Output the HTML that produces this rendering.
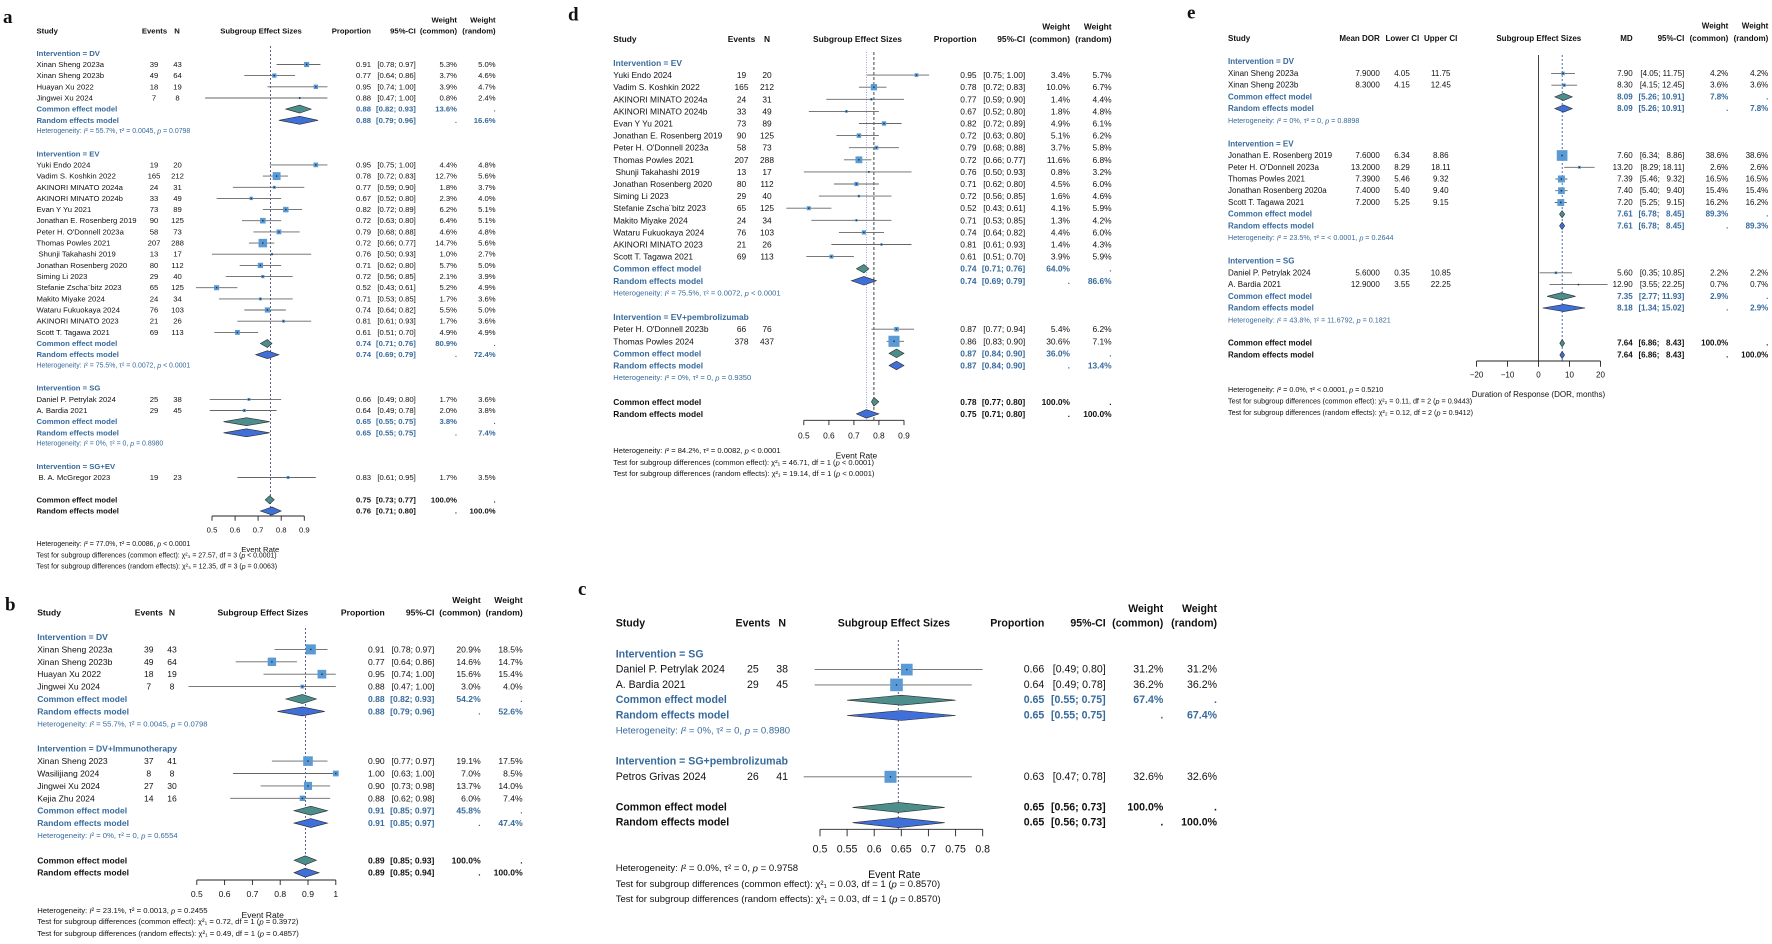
<!DOCTYPE html>
<html><head><meta charset="utf-8"><style>
html,body{margin:0;padding:0;background:#fff}
svg{display:block;font-family:"Liberation Sans",Arial,sans-serif}
svg text{dominant-baseline:central;fill:#111}
.B{font-weight:bold}
svg text.U,.U{fill:#376a9c}
.E{text-anchor:end}
.M{text-anchor:middle}
.L{font-family:"Liberation Serif",serif;font-weight:bold;font-size:19px}
.ci{stroke:#666;stroke-width:0.9;fill:none}
.sq{fill:#5a9bd5}
.dt{fill:#1d2b45}
.dc{fill:#4b8e8c;stroke:#2a2a2a;stroke-width:0.6}
.dr{fill:#3f6fd8;stroke:#2a2a2a;stroke-width:0.6}
.ref{stroke:#4d4d80;stroke-width:0.9;stroke-dasharray:2 2}
.ax{stroke:#222;stroke-width:0.9;fill:none}
</style></head><body>
<svg width="1772" height="944" viewBox="0 0 1772 944" xmlns="http://www.w3.org/2000/svg">
<rect width="1772" height="944" fill="#fff"/>

<!-- ================= PANEL A ================= -->
<g font-size="7.7">
<text class="L" x="3" y="17.7">a</text>
<g class="B">
<text x="36.5" y="31">Study</text>
<text class="M" x="154.5" y="31">Events</text>
<text class="M" x="177" y="31">N</text>
<text class="M" x="261" y="31">Subgroup Effect Sizes</text>
<text class="E" x="371" y="31">Proportion</text>
<text class="E" x="415.8" y="31">95%-CI</text>
<text class="E" x="457" y="20">Weight</text>
<text class="E" x="457" y="31">(common)</text>
<text class="E" x="495.6" y="20">Weight</text>
<text class="E" x="495.6" y="31">(random)</text>
</g>
<text class="B U" x="36.5" y="53.3">Intervention = DV</text>
<text x="36.5" y="64.5">Xinan Sheng 2023a</text>
<text x="36.5" y="75.6">Xinan Sheng 2023b</text>
<text x="36.5" y="86.8">Huayan Xu 2022</text>
<text x="36.5" y="98">Jingwei Xu 2024</text>
<text class="B U" x="36.5" y="109.1">Common effect model</text>
<text class="B U" x="36.5" y="120.3">Random effects model</text>
<text class="U" font-size="6.95" x="36.5" y="131.4">Heterogeneity: <tspan font-style="italic">I</tspan>² = 55.7%, τ² = 0.0045, <tspan font-style="italic">p</tspan> = 0.0798</text>
<text class="B U" x="36.5" y="153.8">Intervention = EV</text>
<text x="36.5" y="164.9">Yuki Endo 2024</text>
<text x="36.5" y="176.1">Vadim S. Koshkin 2022</text>
<text x="36.5" y="187.3">AKINORI MINATO 2024a</text>
<text x="36.5" y="198.4">AKINORI MINATO 2024b</text>
<text x="36.5" y="209.6">Evan Y Yu 2021</text>
<text x="36.5" y="220.7">Jonathan E. Rosenberg 2019</text>
<text x="36.5" y="231.9">Peter H. O'Donnell 2023a</text>
<text x="36.5" y="243.1">Thomas Powles 2021</text>
<text x="38.5" y="254.2">Shunji Takahashi 2019</text>
<text x="36.5" y="265.4">Jonathan Rosenberg 2020</text>
<text x="36.5" y="276.6">Siming Li 2023</text>
<text x="36.5" y="287.7">Stefanie Zscha¨bitz 2023</text>
<text x="36.5" y="298.9">Makito Miyake 2024</text>
<text x="36.5" y="310">Wataru Fukuokaya 2024</text>
<text x="36.5" y="321.2">AKINORI MINATO 2023</text>
<text x="36.5" y="332.4">Scott T. Tagawa 2021</text>
<text class="B U" x="36.5" y="343.5">Common effect model</text>
<text class="B U" x="36.5" y="354.7">Random effects model</text>
<text class="U" font-size="6.95" x="36.5" y="365.9">Heterogeneity: <tspan font-style="italic">I</tspan>² = 75.5%, τ² = 0.0072, <tspan font-style="italic">p</tspan> &lt; 0.0001</text>
<text class="B U" x="36.5" y="388.2">Intervention = SG</text>
<text x="36.5" y="399.4">Daniel P. Petrylak 2024</text>
<text x="36.5" y="410.5">A. Bardia 2021</text>
<text class="B U" x="36.5" y="421.7">Common effect model</text>
<text class="B U" x="36.5" y="432.8">Random effects model</text>
<text class="U" font-size="6.95" x="36.5" y="444">Heterogeneity: <tspan font-style="italic">I</tspan>² = 0%, τ² = 0, <tspan font-style="italic">p</tspan> = 0.8980</text>
<text class="B U" x="36.5" y="466.3">Intervention = SG+EV</text>
<text x="38.5" y="477.5">B. A. McGregor 2023</text>
<text class="B" x="36.5" y="499.8">Common effect model</text>
<text class="B" x="36.5" y="511">Random effects model</text>

<g class="M">
<text x="154" y="64.5">39</text><text x="177.5" y="64.5">43</text>
<text x="154" y="75.6">49</text><text x="177.5" y="75.6">64</text>
<text x="154" y="86.8">18</text><text x="177.5" y="86.8">19</text>
<text x="154" y="98">7</text><text x="177.5" y="98">8</text>
<text x="154" y="164.9">19</text><text x="177.5" y="164.9">20</text>
<text x="154" y="176.1">165</text><text x="177.5" y="176.1">212</text>
<text x="154" y="187.3">24</text><text x="177.5" y="187.3">31</text>
<text x="154" y="198.4">33</text><text x="177.5" y="198.4">49</text>
<text x="154" y="209.6">73</text><text x="177.5" y="209.6">89</text>
<text x="154" y="220.7">90</text><text x="177.5" y="220.7">125</text>
<text x="154" y="231.9">58</text><text x="177.5" y="231.9">73</text>
<text x="154" y="243.1">207</text><text x="177.5" y="243.1">288</text>
<text x="154" y="254.2">13</text><text x="177.5" y="254.2">17</text>
<text x="154" y="265.4">80</text><text x="177.5" y="265.4">112</text>
<text x="154" y="276.6">29</text><text x="177.5" y="276.6">40</text>
<text x="154" y="287.7">65</text><text x="177.5" y="287.7">125</text>
<text x="154" y="298.9">24</text><text x="177.5" y="298.9">34</text>
<text x="154" y="310">76</text><text x="177.5" y="310">103</text>
<text x="154" y="321.2">21</text><text x="177.5" y="321.2">26</text>
<text x="154" y="332.4">69</text><text x="177.5" y="332.4">113</text>
<text x="154" y="399.4">25</text><text x="177.5" y="399.4">38</text>
<text x="154" y="410.5">29</text><text x="177.5" y="410.5">45</text>
<text x="154" y="477.5">19</text><text x="177.5" y="477.5">23</text>
</g>

<g class="E">
<text x="371" y="64.5">0.91</text><text x="415.8" y="64.5">[0.78; 0.97]</text><text x="457" y="64.5">5.3%</text><text x="495.6" y="64.5">5.0%</text>
<text x="371" y="75.6">0.77</text><text x="415.8" y="75.6">[0.64; 0.86]</text><text x="457" y="75.6">3.7%</text><text x="495.6" y="75.6">4.6%</text>
<text x="371" y="86.8">0.95</text><text x="415.8" y="86.8">[0.74; 1.00]</text><text x="457" y="86.8">3.9%</text><text x="495.6" y="86.8">4.7%</text>
<text x="371" y="98">0.88</text><text x="415.8" y="98">[0.47; 1.00]</text><text x="457" y="98">0.8%</text><text x="495.6" y="98">2.4%</text>
<g class="B U"><text class="B U" x="371" y="109.1">0.88</text><text class="B U" x="415.8" y="109.1">[0.82; 0.93]</text><text class="B U" x="457" y="109.1">13.6%</text><text class="B U" x="495.6" y="109.1">.</text>
<text class="B U" x="371" y="120.3">0.88</text><text class="B U" x="415.8" y="120.3">[0.79; 0.96]</text><text class="B U" x="457" y="120.3">.</text><text class="B U" x="495.6" y="120.3">16.6%</text></g>
<text x="371" y="164.9">0.95</text><text x="415.8" y="164.9">[0.75; 1.00]</text><text x="457" y="164.9">4.4%</text><text x="495.6" y="164.9">4.8%</text>
<text x="371" y="176.1">0.78</text><text x="415.8" y="176.1">[0.72; 0.83]</text><text x="457" y="176.1">12.7%</text><text x="495.6" y="176.1">5.6%</text>
<text x="371" y="187.3">0.77</text><text x="415.8" y="187.3">[0.59; 0.90]</text><text x="457" y="187.3">1.8%</text><text x="495.6" y="187.3">3.7%</text>
<text x="371" y="198.4">0.67</text><text x="415.8" y="198.4">[0.52; 0.80]</text><text x="457" y="198.4">2.3%</text><text x="495.6" y="198.4">4.0%</text>
<text x="371" y="209.6">0.82</text><text x="415.8" y="209.6">[0.72; 0.89]</text><text x="457" y="209.6">6.2%</text><text x="495.6" y="209.6">5.1%</text>
<text x="371" y="220.7">0.72</text><text x="415.8" y="220.7">[0.63; 0.80]</text><text x="457" y="220.7">6.4%</text><text x="495.6" y="220.7">5.1%</text>
<text x="371" y="231.9">0.79</text><text x="415.8" y="231.9">[0.68; 0.88]</text><text x="457" y="231.9">4.6%</text><text x="495.6" y="231.9">4.8%</text>
<text x="371" y="243.1">0.72</text><text x="415.8" y="243.1">[0.66; 0.77]</text><text x="457" y="243.1">14.7%</text><text x="495.6" y="243.1">5.6%</text>
<text x="371" y="254.2">0.76</text><text x="415.8" y="254.2">[0.50; 0.93]</text><text x="457" y="254.2">1.0%</text><text x="495.6" y="254.2">2.7%</text>
<text x="371" y="265.4">0.71</text><text x="415.8" y="265.4">[0.62; 0.80]</text><text x="457" y="265.4">5.7%</text><text x="495.6" y="265.4">5.0%</text>
<text x="371" y="276.6">0.72</text><text x="415.8" y="276.6">[0.56; 0.85]</text><text x="457" y="276.6">2.1%</text><text x="495.6" y="276.6">3.9%</text>
<text x="371" y="287.7">0.52</text><text x="415.8" y="287.7">[0.43; 0.61]</text><text x="457" y="287.7">5.2%</text><text x="495.6" y="287.7">4.9%</text>
<text x="371" y="298.9">0.71</text><text x="415.8" y="298.9">[0.53; 0.85]</text><text x="457" y="298.9">1.7%</text><text x="495.6" y="298.9">3.6%</text>
<text x="371" y="310">0.74</text><text x="415.8" y="310">[0.64; 0.82]</text><text x="457" y="310">5.5%</text><text x="495.6" y="310">5.0%</text>
<text x="371" y="321.2">0.81</text><text x="415.8" y="321.2">[0.61; 0.93]</text><text x="457" y="321.2">1.7%</text><text x="495.6" y="321.2">3.6%</text>
<text x="371" y="332.4">0.61</text><text x="415.8" y="332.4">[0.51; 0.70]</text><text x="457" y="332.4">4.9%</text><text x="495.6" y="332.4">4.9%</text>
<text class="B U" x="371" y="343.5">0.74</text><text class="B U" x="415.8" y="343.5">[0.71; 0.76]</text><text class="B U" x="457" y="343.5">80.9%</text><text class="B U" x="495.6" y="343.5">.</text>
<text class="B U" x="371" y="354.7">0.74</text><text class="B U" x="415.8" y="354.7">[0.69; 0.79]</text><text class="B U" x="457" y="354.7">.</text><text class="B U" x="495.6" y="354.7">72.4%</text>
<text x="371" y="399.4">0.66</text><text x="415.8" y="399.4">[0.49; 0.80]</text><text x="457" y="399.4">1.7%</text><text x="495.6" y="399.4">3.6%</text>
<text x="371" y="410.5">0.64</text><text x="415.8" y="410.5">[0.49; 0.78]</text><text x="457" y="410.5">2.0%</text><text x="495.6" y="410.5">3.8%</text>
<text class="B U" x="371" y="421.7">0.65</text><text class="B U" x="415.8" y="421.7">[0.55; 0.75]</text><text class="B U" x="457" y="421.7">3.8%</text><text class="B U" x="495.6" y="421.7">.</text>
<text class="B U" x="371" y="432.8">0.65</text><text class="B U" x="415.8" y="432.8">[0.55; 0.75]</text><text class="B U" x="457" y="432.8">.</text><text class="B U" x="495.6" y="432.8">7.4%</text>
<text x="371" y="477.5">0.83</text><text x="415.8" y="477.5">[0.61; 0.95]</text><text x="457" y="477.5">1.7%</text><text x="495.6" y="477.5">3.5%</text>
<text class="B" x="371" y="499.8">0.75</text><text class="B" x="415.8" y="499.8">[0.73; 0.77]</text><text class="B" x="457" y="499.8">100.0%</text><text class="B" x="495.6" y="499.8">.</text>
<text class="B" x="371" y="511">0.76</text><text class="B" x="415.8" y="511">[0.71; 0.80]</text><text class="B" x="457" y="511">.</text><text class="B" x="495.6" y="511">100.0%</text>
</g>

<line class="ref" x1="270.5" y1="46" x2="270.5" y2="516"/>
<path class="ci" d="M276.6 64.5H320.4M244.3 75.6H295.1M267.4 86.8H327.4M205.1 98H327.4M269.7 164.9H327.4M262.8 176.1H288.1M232.8 187.3H304.3M216.6 198.4H281.2M262.8 209.6H302M242 220.7H281.2M253.5 231.9H299.7M248.9 243.1H274.3M212 254.2H311.2M239.7 265.4H281.2M225.8 276.6H292.7M195.9 287.7H237.4M218.9 298.9H292.7M244.3 310H285.8M237.4 321.2H311.2M214.3 332.4H258.1M209.7 399.4H281.2M209.7 410.5H276.6M237.4 477.5H315.8"/>
<g class="sq">
<rect x="304.05" y="61.95" width="5.1" height="5.1"/>
<rect x="272.15" y="73.45" width="4.3" height="4.3"/>
<rect x="313.6" y="84.6" width="4.4" height="4.4"/>
<rect x="298.7" y="97" width="2" height="2"/>
<rect x="313.45" y="162.55" width="4.7" height="4.7"/>
<rect x="272.65" y="172.15" width="7.9" height="7.9"/>
<rect x="272.8" y="185.8" width="3" height="3"/>
<rect x="249.5" y="196.7" width="3.4" height="3.4"/>
<rect x="283.05" y="206.85" width="5.5" height="5.5"/>
<rect x="260" y="217.9" width="5.6" height="5.6"/>
<rect x="276.5" y="229.5" width="4.8" height="4.8"/>
<rect x="258.55" y="238.85" width="8.5" height="8.5"/>
<rect x="270.9" y="253.1" width="2.2" height="2.2"/>
<rect x="257.75" y="262.75" width="5.3" height="5.3"/>
<rect x="261.2" y="275" width="3.2" height="3.2"/>
<rect x="214.05" y="285.15" width="5.1" height="5.1"/>
<rect x="258.95" y="297.45" width="2.9" height="2.9"/>
<rect x="264.8" y="307.4" width="5.2" height="5.2"/>
<rect x="282.05" y="319.75" width="2.9" height="2.9"/>
<rect x="234.95" y="329.95" width="4.9" height="4.9"/>
<rect x="247.45" y="397.95" width="2.9" height="2.9"/>
<rect x="242.75" y="408.95" width="3.1" height="3.1"/>
<rect x="286.65" y="476.05" width="2.9" height="2.9"/>
</g>
<path class="dt" d="M305.9 63.8h1.4v1.4h-1.4zM273.6 74.9h1.4v1.4h-1.4zM315.1 86.1h1.4v1.4h-1.4zM299 97.3h1.4v1.4h-1.4zM315.1 164.2h1.4v1.4h-1.4zM275.9 175.4h1.4v1.4h-1.4zM273.6 186.6h1.4v1.4h-1.4zM250.5 197.7h1.4v1.4h-1.4zM285.1 208.9h1.4v1.4h-1.4zM262.1 220h1.4v1.4h-1.4zM278.2 231.2h1.4v1.4h-1.4zM262.1 242.4h1.4v1.4h-1.4zM271.3 253.5h1.4v1.4h-1.4zM259.7 264.7h1.4v1.4h-1.4zM262.1 275.9h1.4v1.4h-1.4zM215.9 287h1.4v1.4h-1.4zM259.7 298.2h1.4v1.4h-1.4zM266.7 309.3h1.4v1.4h-1.4zM282.8 320.5h1.4v1.4h-1.4zM236.7 331.7h1.4v1.4h-1.4zM248.2 398.7h1.4v1.4h-1.4zM243.6 409.8h1.4v1.4h-1.4zM287.4 476.8h1.4v1.4h-1.4z"/>
<polygon class="dc" points="285.8,109.1 299.7,105.1 311.2,109.1 299.7,113.1"/>
<polygon class="dr" points="278.9,120.3 299.7,116.3 318.1,120.3 299.7,124.3"/>
<polygon class="dc" points="260.4,343.5 267.4,339.5 272,343.5 267.4,347.5"/>
<polygon class="dr" points="255.8,354.7 267.4,350.7 278.9,354.7 267.4,358.7"/>
<polygon class="dc" points="223.5,421.7 246.6,417.7 269.7,421.7 246.6,425.7"/>
<polygon class="dr" points="223.5,432.8 246.6,428.8 269.7,432.8 246.6,436.8"/>
<polygon class="dc" points="265.1,499.8 269.7,495.8 274.3,499.8 269.7,503.8"/>
<polygon class="dr" points="260.4,511 272,507 281.2,511 272,515"/>
<path class="ax" d="M212 516H304.3M212 516v4.7M235.1 516v4.7M258.1 516v4.7M281.2 516v4.7M304.3 516v4.7"/>
<g class="M">
<text x="212" y="530">0.5</text><text x="235.1" y="530">0.6</text><text x="258.1" y="530">0.7</text><text x="281.2" y="530">0.8</text><text x="304.3" y="530">0.9</text>
<text x="260.3" y="549.3">Event Rate</text>
</g>
<g font-size="6.95">
<text x="36.5" y="544.3">Heterogeneity: <tspan font-style="italic">I</tspan>² = 77.0%, τ² = 0.0086, <tspan font-style="italic">p</tspan> &lt; 0.0001</text>
<text x="36.5" y="556">Test for subgroup differences (common effect): χ²₃ = 27.57, df = 3 (<tspan font-style="italic">p</tspan> &lt; 0.0001)</text>
<text x="36.5" y="567">Test for subgroup differences (random effects): χ²₃ = 12.35, df = 3 (<tspan font-style="italic">p</tspan> = 0.0063)</text>
</g>
</g>

<!-- ================= PANEL B ================= -->
<g font-size="8.57">
<text class="L" x="5" y="605">b</text>
<g class="B">
<text x="37.2" y="612.3">Study</text>
<text class="M" x="148.8" y="612.3">Events</text>
<text class="M" x="172" y="612.3">N</text>
<text class="M" x="262.9" y="612.3">Subgroup Effect Sizes</text>
<text class="E" x="384.7" y="612.3">Proportion</text>
<text class="E" x="434.4" y="612.3">95%-CI</text>
<text class="E" x="480.7" y="600">Weight</text>
<text class="E" x="480.7" y="612.3">(common)</text>
<text class="E" x="522.7" y="600">Weight</text>
<text class="E" x="522.7" y="612.3">(random)</text>
</g>
<text class="B U" x="37.2" y="637">Intervention = DV</text>
<text x="37.2" y="649.4">Xinan Sheng 2023a</text>
<text x="37.2" y="661.8">Xinan Sheng 2023b</text>
<text x="37.2" y="674.2">Huayan Xu 2022</text>
<text x="37.2" y="686.6">Jingwei Xu 2024</text>
<text class="B U" x="37.2" y="699">Common effect model</text>
<text class="B U" x="37.2" y="711.4">Random effects model</text>
<text class="U" font-size="7.7" x="37.2" y="723.8">Heterogeneity: <tspan font-style="italic">I</tspan>² = 55.7%, τ² = 0.0045, <tspan font-style="italic">p</tspan> = 0.0798</text>
<text class="B U" x="37.2" y="748.6">Intervention = DV+Immunotherapy</text>
<text x="37.2" y="761.1">Xinan Sheng 2023</text>
<text x="37.2" y="773.5">Wasilijiang 2024</text>
<text x="37.2" y="785.9">Jingwei Xu 2024</text>
<text x="37.2" y="798.3">Kejia Zhu 2024</text>
<text class="B U" x="37.2" y="810.7">Common effect model</text>
<text class="B U" x="37.2" y="823.1">Random effects model</text>
<text class="U" font-size="7.7" x="37.2" y="835.5">Heterogeneity: <tspan font-style="italic">I</tspan>² = 0%, τ² = 0, <tspan font-style="italic">p</tspan> = 0.6554</text>
<text class="B" x="37.2" y="860.3">Common effect model</text>
<text class="B" x="37.2" y="872.7">Random effects model</text>
<g class="M">
<text x="148.8" y="649.4">39</text><text x="172" y="649.4">43</text>
<text x="148.8" y="661.8">49</text><text x="172" y="661.8">64</text>
<text x="148.8" y="674.2">18</text><text x="172" y="674.2">19</text>
<text x="148.8" y="686.6">7</text><text x="172" y="686.6">8</text>
<text x="148.8" y="761.1">37</text><text x="172" y="761.1">41</text>
<text x="148.8" y="773.5">8</text><text x="172" y="773.5">8</text>
<text x="148.8" y="785.9">27</text><text x="172" y="785.9">30</text>
<text x="148.8" y="798.3">14</text><text x="172" y="798.3">16</text>
</g>
<g class="E">
<text x="384.7" y="649.4">0.91</text><text x="434.4" y="649.4">[0.78; 0.97]</text><text x="480.7" y="649.4">20.9%</text><text x="522.7" y="649.4">18.5%</text>
<text x="384.7" y="661.8">0.77</text><text x="434.4" y="661.8">[0.64; 0.86]</text><text x="480.7" y="661.8">14.6%</text><text x="522.7" y="661.8">14.7%</text>
<text x="384.7" y="674.2">0.95</text><text x="434.4" y="674.2">[0.74; 1.00]</text><text x="480.7" y="674.2">15.6%</text><text x="522.7" y="674.2">15.4%</text>
<text x="384.7" y="686.6">0.88</text><text x="434.4" y="686.6">[0.47; 1.00]</text><text x="480.7" y="686.6">3.0%</text><text x="522.7" y="686.6">4.0%</text>
<text class="B U" x="384.7" y="699">0.88</text><text class="B U" x="434.4" y="699">[0.82; 0.93]</text><text class="B U" x="480.7" y="699">54.2%</text><text class="B U" x="522.7" y="699">.</text>
<text class="B U" x="384.7" y="711.4">0.88</text><text class="B U" x="434.4" y="711.4">[0.79; 0.96]</text><text class="B U" x="480.7" y="711.4">.</text><text class="B U" x="522.7" y="711.4">52.6%</text>
<text x="384.7" y="761.1">0.90</text><text x="434.4" y="761.1">[0.77; 0.97]</text><text x="480.7" y="761.1">19.1%</text><text x="522.7" y="761.1">17.5%</text>
<text x="384.7" y="773.5">1.00</text><text x="434.4" y="773.5">[0.63; 1.00]</text><text x="480.7" y="773.5">7.0%</text><text x="522.7" y="773.5">8.5%</text>
<text x="384.7" y="785.9">0.90</text><text x="434.4" y="785.9">[0.73; 0.98]</text><text x="480.7" y="785.9">13.7%</text><text x="522.7" y="785.9">14.0%</text>
<text x="384.7" y="798.3">0.88</text><text x="434.4" y="798.3">[0.62; 0.98]</text><text x="480.7" y="798.3">6.0%</text><text x="522.7" y="798.3">7.4%</text>
<text class="B U" x="384.7" y="810.7">0.91</text><text class="B U" x="434.4" y="810.7">[0.85; 0.97]</text><text class="B U" x="480.7" y="810.7">45.8%</text><text class="B U" x="522.7" y="810.7">.</text>
<text class="B U" x="384.7" y="823.1">0.91</text><text class="B U" x="434.4" y="823.1">[0.85; 0.97]</text><text class="B U" x="480.7" y="823.1">.</text><text class="B U" x="522.7" y="823.1">47.4%</text>
<text class="B" x="384.7" y="860.3">0.89</text><text class="B" x="434.4" y="860.3">[0.85; 0.93]</text><text class="B" x="480.7" y="860.3">100.0%</text><text class="B" x="522.7" y="860.3">.</text>
<text class="B" x="384.7" y="872.7">0.89</text><text class="B" x="434.4" y="872.7">[0.85; 0.94]</text><text class="B" x="480.7" y="872.7">.</text><text class="B" x="522.7" y="872.7">100.0%</text>
</g>
<line class="ref" x1="305.5" y1="628" x2="305.5" y2="880"/>
<path class="ci" d="M274.6 649.4H327.5M235.7 661.8H296.9M263.5 674.2H335.8M188.5 686.6H335.8M271.9 761.1H327.5M232.9 773.5H335.8M260.7 785.9H330.2M230.2 798.3H330.2"/>
<g class="sq">
<rect x="305.75" y="644.35" width="10.1" height="10.1"/>
<rect x="267.7" y="657.6" width="8.4" height="8.4"/>
<rect x="317.55" y="669.85" width="8.7" height="8.7"/>
<rect x="300.5" y="684.7" width="3.8" height="3.8"/>
<rect x="303.2" y="756.3" width="9.6" height="9.6"/>
<rect x="332.9" y="770.6" width="5.8" height="5.8"/>
<rect x="303.95" y="781.85" width="8.1" height="8.1"/>
<rect x="299.7" y="795.6" width="5.4" height="5.4"/>
</g>
<path class="dt" d="M310.1 648.7h1.4v1.4h-1.4zM271.2 661.1h1.4v1.4h-1.4zM321.2 673.5h1.4v1.4h-1.4zM301.7 685.9h1.4v1.4h-1.4zM307.3 760.4h1.4v1.4h-1.4zM335.1 772.8h1.4v1.4h-1.4zM307.3 785.2h1.4v1.4h-1.4zM301.7 797.6h1.4v1.4h-1.4z"/>
<polygon class="dc" points="285.8,699 302.4,694.5 316.4,699 302.4,703.5"/>
<polygon class="dr" points="277.4,711.4 302.4,706.9 324.7,711.4 302.4,715.9"/>
<polygon class="dc" points="294.1,810.7 310.8,806.2 327.5,810.7 310.8,815.2"/>
<polygon class="dr" points="294.1,823.1 310.8,818.6 327.5,823.1 310.8,827.6"/>
<polygon class="dc" points="294.1,860.3 305.2,855.8 316.4,860.3 305.2,864.8"/>
<polygon class="dr" points="294.1,872.7 305.2,868.2 319.1,872.7 305.2,877.2"/>
<path class="ax" d="M196.8 880H335.8M196.8 880v5M224.6 880v5M252.4 880v5M280.2 880v5M308 880v5M335.8 880v5"/>
<g class="M">
<text x="196.8" y="894">0.5</text><text x="224.6" y="894">0.6</text><text x="252.4" y="894">0.7</text><text x="280.2" y="894">0.8</text><text x="308" y="894">0.9</text><text x="335.8" y="894">1</text>
<text x="262.7" y="915">Event Rate</text>
</g>
<g font-size="7.7">
<text x="37.2" y="910.7">Heterogeneity: <tspan font-style="italic">I</tspan>² = 23.1%, τ² = 0.0013, <tspan font-style="italic">p</tspan> = 0.2455</text>
<text x="37.2" y="921.7">Test for subgroup differences (common effect): χ²₁ = 0.72, df = 1 (<tspan font-style="italic">p</tspan> = 0.3972)</text>
<text x="37.2" y="933.3">Test for subgroup differences (random effects): χ²₁ = 0.49, df = 1 (<tspan font-style="italic">p</tspan> = 0.4857)</text>
</g>
</g>

<!-- ================= PANEL D ================= -->
<g font-size="8.39">
<text class="L" x="568" y="15">d</text>
<g class="B">
<text x="613.3" y="39">Study</text>
<text class="M" x="741.5" y="39">Events</text>
<text class="M" x="767" y="39">N</text>
<text class="M" x="857.5" y="39">Subgroup Effect Sizes</text>
<text class="E" x="976.6" y="39">Proportion</text>
<text class="E" x="1025.2" y="39">95%-CI</text>
<text class="E" x="1070" y="26.7">Weight</text>
<text class="E" x="1070" y="39">(common)</text>
<text class="E" x="1111.6" y="26.7">Weight</text>
<text class="E" x="1111.6" y="39">(random)</text>
</g>
<text class="B U" x="613.3" y="63">Intervention = EV</text>
<text x="613.3" y="75.1">Yuki Endo 2024</text>
<text x="613.3" y="87.2">Vadim S. Koshkin 2022</text>
<text x="613.3" y="99.3">AKINORI MINATO 2024a</text>
<text x="613.3" y="111.4">AKINORI MINATO 2024b</text>
<text x="613.3" y="123.5">Evan Y Yu 2021</text>
<text x="613.3" y="135.6">Jonathan E. Rosenberg 2019</text>
<text x="613.3" y="147.7">Peter H. O'Donnell 2023a</text>
<text x="613.3" y="159.8">Thomas Powles 2021</text>
<text x="615.5" y="171.9">Shunji Takahashi 2019</text>
<text x="613.3" y="184">Jonathan Rosenberg 2020</text>
<text x="613.3" y="196.1">Siming Li 2023</text>
<text x="613.3" y="208.2">Stefanie Zscha¨bitz 2023</text>
<text x="613.3" y="220.3">Makito Miyake 2024</text>
<text x="613.3" y="232.4">Wataru Fukuokaya 2024</text>
<text x="613.3" y="244.5">AKINORI MINATO 2023</text>
<text x="613.3" y="256.6">Scott T. Tagawa 2021</text>
<text class="B U" x="613.3" y="268.7">Common effect model</text>
<text class="B U" x="613.3" y="280.8">Random effects model</text>
<text class="U" font-size="7.55" x="613.3" y="292.9">Heterogeneity: <tspan font-style="italic">I</tspan>² = 75.5%, τ² = 0.0072, <tspan font-style="italic">p</tspan> &lt; 0.0001</text>
<text class="B U" x="613.3" y="317.1">Intervention = EV+pembrolizumab</text>
<text x="613.3" y="329.2">Peter H. O'Donnell 2023b</text>
<text x="613.3" y="341.3">Thomas Powles 2024</text>
<text class="B U" x="613.3" y="353.4">Common effect model</text>
<text class="B U" x="613.3" y="365.5">Random effects model</text>
<text class="U" font-size="7.55" x="613.3" y="377.6">Heterogeneity: <tspan font-style="italic">I</tspan>² = 0%, τ² = 0, <tspan font-style="italic">p</tspan> = 0.9350</text>
<text class="B" x="613.3" y="401.8">Common effect model</text>
<text class="B" x="613.3" y="413.9">Random effects model</text>
<g class="M">
<text x="741.5" y="75.1">19</text><text x="767" y="75.1">20</text>
<text x="741.5" y="87.2">165</text><text x="767" y="87.2">212</text>
<text x="741.5" y="99.3">24</text><text x="767" y="99.3">31</text>
<text x="741.5" y="111.4">33</text><text x="767" y="111.4">49</text>
<text x="741.5" y="123.5">73</text><text x="767" y="123.5">89</text>
<text x="741.5" y="135.6">90</text><text x="767" y="135.6">125</text>
<text x="741.5" y="147.7">58</text><text x="767" y="147.7">73</text>
<text x="741.5" y="159.8">207</text><text x="767" y="159.8">288</text>
<text x="741.5" y="171.9">13</text><text x="767" y="171.9">17</text>
<text x="741.5" y="184">80</text><text x="767" y="184">112</text>
<text x="741.5" y="196.1">29</text><text x="767" y="196.1">40</text>
<text x="741.5" y="208.2">65</text><text x="767" y="208.2">125</text>
<text x="741.5" y="220.3">24</text><text x="767" y="220.3">34</text>
<text x="741.5" y="232.4">76</text><text x="767" y="232.4">103</text>
<text x="741.5" y="244.5">21</text><text x="767" y="244.5">26</text>
<text x="741.5" y="256.6">69</text><text x="767" y="256.6">113</text>
<text x="741.5" y="329.2">66</text><text x="767" y="329.2">76</text>
<text x="741.5" y="341.3">378</text><text x="767" y="341.3">437</text>
</g>
<g class="E">
<text x="976.6" y="75.1">0.95</text><text x="1025.2" y="75.1">[0.75; 1.00]</text><text x="1070" y="75.1">3.4%</text><text x="1111.6" y="75.1">5.7%</text>
<text x="976.6" y="87.2">0.78</text><text x="1025.2" y="87.2">[0.72; 0.83]</text><text x="1070" y="87.2">10.0%</text><text x="1111.6" y="87.2">6.7%</text>
<text x="976.6" y="99.3">0.77</text><text x="1025.2" y="99.3">[0.59; 0.90]</text><text x="1070" y="99.3">1.4%</text><text x="1111.6" y="99.3">4.4%</text>
<text x="976.6" y="111.4">0.67</text><text x="1025.2" y="111.4">[0.52; 0.80]</text><text x="1070" y="111.4">1.8%</text><text x="1111.6" y="111.4">4.8%</text>
<text x="976.6" y="123.5">0.82</text><text x="1025.2" y="123.5">[0.72; 0.89]</text><text x="1070" y="123.5">4.9%</text><text x="1111.6" y="123.5">6.1%</text>
<text x="976.6" y="135.6">0.72</text><text x="1025.2" y="135.6">[0.63; 0.80]</text><text x="1070" y="135.6">5.1%</text><text x="1111.6" y="135.6">6.2%</text>
<text x="976.6" y="147.7">0.79</text><text x="1025.2" y="147.7">[0.68; 0.88]</text><text x="1070" y="147.7">3.7%</text><text x="1111.6" y="147.7">5.8%</text>
<text x="976.6" y="159.8">0.72</text><text x="1025.2" y="159.8">[0.66; 0.77]</text><text x="1070" y="159.8">11.6%</text><text x="1111.6" y="159.8">6.8%</text>
<text x="976.6" y="171.9">0.76</text><text x="1025.2" y="171.9">[0.50; 0.93]</text><text x="1070" y="171.9">0.8%</text><text x="1111.6" y="171.9">3.2%</text>
<text x="976.6" y="184">0.71</text><text x="1025.2" y="184">[0.62; 0.80]</text><text x="1070" y="184">4.5%</text><text x="1111.6" y="184">6.0%</text>
<text x="976.6" y="196.1">0.72</text><text x="1025.2" y="196.1">[0.56; 0.85]</text><text x="1070" y="196.1">1.6%</text><text x="1111.6" y="196.1">4.6%</text>
<text x="976.6" y="208.2">0.52</text><text x="1025.2" y="208.2">[0.43; 0.61]</text><text x="1070" y="208.2">4.1%</text><text x="1111.6" y="208.2">5.9%</text>
<text x="976.6" y="220.3">0.71</text><text x="1025.2" y="220.3">[0.53; 0.85]</text><text x="1070" y="220.3">1.3%</text><text x="1111.6" y="220.3">4.2%</text>
<text x="976.6" y="232.4">0.74</text><text x="1025.2" y="232.4">[0.64; 0.82]</text><text x="1070" y="232.4">4.4%</text><text x="1111.6" y="232.4">6.0%</text>
<text x="976.6" y="244.5">0.81</text><text x="1025.2" y="244.5">[0.61; 0.93]</text><text x="1070" y="244.5">1.4%</text><text x="1111.6" y="244.5">4.3%</text>
<text x="976.6" y="256.6">0.61</text><text x="1025.2" y="256.6">[0.51; 0.70]</text><text x="1070" y="256.6">3.9%</text><text x="1111.6" y="256.6">5.9%</text>
<text class="B U" x="976.6" y="268.7">0.74</text><text class="B U" x="1025.2" y="268.7">[0.71; 0.76]</text><text class="B U" x="1070" y="268.7">64.0%</text><text class="B U" x="1111.6" y="268.7">.</text>
<text class="B U" x="976.6" y="280.8">0.74</text><text class="B U" x="1025.2" y="280.8">[0.69; 0.79]</text><text class="B U" x="1070" y="280.8">.</text><text class="B U" x="1111.6" y="280.8">86.6%</text>
<text x="976.6" y="329.2">0.87</text><text x="1025.2" y="329.2">[0.77; 0.94]</text><text x="1070" y="329.2">5.4%</text><text x="1111.6" y="329.2">6.2%</text>
<text x="976.6" y="341.3">0.86</text><text x="1025.2" y="341.3">[0.83; 0.90]</text><text x="1070" y="341.3">30.6%</text><text x="1111.6" y="341.3">7.1%</text>
<text class="B U" x="976.6" y="353.4">0.87</text><text class="B U" x="1025.2" y="353.4">[0.84; 0.90]</text><text class="B U" x="1070" y="353.4">36.0%</text><text class="B U" x="1111.6" y="353.4">.</text>
<text class="B U" x="976.6" y="365.5">0.87</text><text class="B U" x="1025.2" y="365.5">[0.84; 0.90]</text><text class="B U" x="1070" y="365.5">.</text><text class="B U" x="1111.6" y="365.5">13.4%</text>
<text class="B" x="976.6" y="401.8">0.78</text><text class="B" x="1025.2" y="401.8">[0.77; 0.80]</text><text class="B" x="1070" y="401.8">100.0%</text><text class="B" x="1111.6" y="401.8">.</text>
<text class="B" x="976.6" y="413.9">0.75</text><text class="B" x="1025.2" y="413.9">[0.71; 0.80]</text><text class="B" x="1070" y="413.9">.</text><text class="B" x="1111.6" y="413.9">100.0%</text>
</g>
<line x1="866.6" y1="52" x2="866.6" y2="420.3" stroke="#8090dd" stroke-width="0.8" stroke-dasharray="1 1.5"/>
<line x1="873.9" y1="52" x2="873.9" y2="420.3" stroke="#333" stroke-width="0.9" stroke-dasharray="3 2"/>
<path class="ci" d="M866.4 75.1H929.1M858.9 87.2H886.5M826.3 99.3H904M808.8 111.4H878.9M858.9 123.5H901.5M836.4 135.6H878.9M848.9 147.7H899M843.9 159.8H871.4M803.8 171.9H911.5M833.9 184H878.9M818.8 196.1H891.5M786.3 208.2H831.4M811.3 220.3H891.5M838.9 232.4H884M831.4 244.5H911.5M806.3 256.6H853.9M871.4 329.2H914M886.5 341.3H904"/>
<g class="sq">
<rect x="914.65" y="73.25" width="3.7" height="3.7"/>
<rect x="870.75" y="84.05" width="6.3" height="6.3"/>
<rect x="870.2" y="98.1" width="2.4" height="2.4"/>
<rect x="845.05" y="110.05" width="2.7" height="2.7"/>
<rect x="881.8" y="121.3" width="4.4" height="4.4"/>
<rect x="856.65" y="133.35" width="4.5" height="4.5"/>
<rect x="874.45" y="145.75" width="3.9" height="3.9"/>
<rect x="855.5" y="156.4" width="6.8" height="6.8"/>
<rect x="868" y="171" width="1.8" height="1.8"/>
<rect x="854.3" y="181.9" width="4.2" height="4.2"/>
<rect x="857.65" y="194.85" width="2.5" height="2.5"/>
<rect x="806.8" y="206.2" width="4" height="4"/>
<rect x="855.25" y="219.15" width="2.3" height="2.3"/>
<rect x="861.8" y="230.3" width="4.2" height="4.2"/>
<rect x="880.3" y="243.3" width="2.4" height="2.4"/>
<rect x="829.4" y="254.6" width="4" height="4"/>
<rect x="894.2" y="326.9" width="4.6" height="4.6"/>
<rect x="888.45" y="335.75" width="11.1" height="11.1"/>
</g>
<path class="dt" d="M915.8 74.4h1.4v1.4h-1.4zM873.2 86.5h1.4v1.4h-1.4zM870.7 98.6h1.4v1.4h-1.4zM845.7 110.7h1.4v1.4h-1.4zM883.3 122.8h1.4v1.4h-1.4zM858.2 134.9h1.4v1.4h-1.4zM875.7 147h1.4v1.4h-1.4zM858.2 159.1h1.4v1.4h-1.4zM868.2 171.2h1.4v1.4h-1.4zM855.7 183.3h1.4v1.4h-1.4zM858.2 195.4h1.4v1.4h-1.4zM808.1 207.5h1.4v1.4h-1.4zM855.7 219.6h1.4v1.4h-1.4zM863.2 231.7h1.4v1.4h-1.4zM880.8 243.8h1.4v1.4h-1.4zM830.7 255.9h1.4v1.4h-1.4zM895.8 328.5h1.4v1.4h-1.4zM893.3 340.6h1.4v1.4h-1.4z"/>
<polygon class="dc" points="856.4,268.7 863.9,264.5 868.9,268.7 863.9,272.9"/>
<polygon class="dr" points="851.4,280.8 863.9,276.5 876.4,280.8 863.9,285.1"/>
<polygon class="dc" points="889,353.4 896.5,349.1 904,353.4 896.5,357.7"/>
<polygon class="dr" points="889,365.5 896.5,361.2 904,365.5 896.5,369.8"/>
<polygon class="dc" points="871.4,401.8 873.9,397.5 878.9,401.8 873.9,406.1"/>
<polygon class="dr" points="856.4,413.9 866.4,409.6 878.9,413.9 866.4,418.2"/>
<path class="ax" d="M803.8 420.3H904M803.8 420.3v4.8M828.9 420.3v4.8M853.9 420.3v4.8M878.9 420.3v4.8M904 420.3v4.8"/>
<g class="M">
<text x="803.8" y="435.7">0.5</text><text x="828.9" y="435.7">0.6</text><text x="853.9" y="435.7">0.7</text><text x="878.9" y="435.7">0.8</text><text x="904" y="435.7">0.9</text>
<text x="856.4" y="455.7">Event Rate</text>
</g>
<g font-size="7.55">
<text x="613.3" y="450.7">Heterogeneity: <tspan font-style="italic">I</tspan>² = 84.2%, τ² = 0.0082, <tspan font-style="italic">p</tspan> &lt; 0.0001</text>
<text x="613.3" y="462.7">Test for subgroup differences (common effect): χ²₁ = 46.71, df = 1 (<tspan font-style="italic">p</tspan> &lt; 0.0001)</text>
<text x="613.3" y="473.7">Test for subgroup differences (random effects): χ²₁ = 19.14, df = 1 (<tspan font-style="italic">p</tspan> &lt; 0.0001)</text>
</g>
</g>

<!-- ================= PANEL C ================= -->
<g font-size="10.58">
<text class="L" x="578" y="589.7">c</text>
<g class="B">
<text x="615.7" y="623.5">Study</text>
<text class="M" x="752.9" y="623.5">Events</text>
<text class="M" x="782.2" y="623.5">N</text>
<text class="M" x="893.9" y="623.5">Subgroup Effect Sizes</text>
<text class="E" x="1044.3" y="623.5">Proportion</text>
<text class="E" x="1105.7" y="623.5">95%-CI</text>
<text class="E" x="1163.3" y="609">Weight</text>
<text class="E" x="1163.3" y="623.5">(common)</text>
<text class="E" x="1217" y="609">Weight</text>
<text class="E" x="1217" y="623.5">(random)</text>
</g>
<text class="B U" x="615.7" y="654.3">Intervention = SG</text>
<text x="615.7" y="669.6">Daniel P. Petrylak 2024</text>
<text x="615.7" y="684.9">A. Bardia 2021</text>
<text class="B U" x="615.7" y="700.2">Common effect model</text>
<text class="B U" x="615.7" y="715.5">Random effects model</text>
<text class="U" font-size="9.55" x="615.7" y="730.9">Heterogeneity: <tspan font-style="italic">I</tspan>² = 0%, τ² = 0, <tspan font-style="italic">p</tspan> = 0.8980</text>
<text class="B U" x="615.7" y="761.5">Intervention = SG+pembrolizumab</text>
<text x="615.7" y="776.8">Petros Grivas 2024</text>
<text class="B" x="615.7" y="807.4">Common effect model</text>
<text class="B" x="615.7" y="822.7">Random effects model</text>
<g class="M">
<text x="752.9" y="669.6">25</text><text x="782.2" y="669.6">38</text>
<text x="752.9" y="684.9">29</text><text x="782.2" y="684.9">45</text>
<text x="752.9" y="776.8">26</text><text x="782.2" y="776.8">41</text>
</g>
<g class="E">
<text x="1044.3" y="669.6">0.66</text><text x="1105.7" y="669.6">[0.49; 0.80]</text><text x="1163.3" y="669.6">31.2%</text><text x="1217" y="669.6">31.2%</text>
<text x="1044.3" y="684.9">0.64</text><text x="1105.7" y="684.9">[0.49; 0.78]</text><text x="1163.3" y="684.9">36.2%</text><text x="1217" y="684.9">36.2%</text>
<text class="B U" x="1044.3" y="700.2">0.65</text><text class="B U" x="1105.7" y="700.2">[0.55; 0.75]</text><text class="B U" x="1163.3" y="700.2">67.4%</text><text class="B U" x="1217" y="700.2">.</text>
<text class="B U" x="1044.3" y="715.5">0.65</text><text class="B U" x="1105.7" y="715.5">[0.55; 0.75]</text><text class="B U" x="1163.3" y="715.5">.</text><text class="B U" x="1217" y="715.5">67.4%</text>
<text x="1044.3" y="776.8">0.63</text><text x="1105.7" y="776.8">[0.47; 0.78]</text><text x="1163.3" y="776.8">32.6%</text><text x="1217" y="776.8">32.6%</text>
<text class="B" x="1044.3" y="807.4">0.65</text><text class="B" x="1105.7" y="807.4">[0.56; 0.73]</text><text class="B" x="1163.3" y="807.4">100.0%</text><text class="B" x="1217" y="807.4">.</text>
<text class="B" x="1044.3" y="822.7">0.65</text><text class="B" x="1105.7" y="822.7">[0.56; 0.73]</text><text class="B" x="1163.3" y="822.7">.</text><text class="B" x="1217" y="822.7">100.0%</text>
</g>
<line class="ref" x1="898.3" y1="640" x2="898.3" y2="829.3"/>
<path class="ci" d="M814.6 669.6H982.7M814.6 684.9H971.8M803.7 776.8H971.8"/>
<g class="sq">
<rect x="900.95" y="663.75" width="11.7" height="11.7"/>
<rect x="890.2" y="678.6" width="12.6" height="12.6"/>
<rect x="884.5" y="770.8" width="12" height="12"/>
</g>
<path class="dt" d="M906.1 668.9h1.4v1.4h-1.4zM895.8 684.2h1.4v1.4h-1.4zM889.8 776.1h1.4v1.4h-1.4z"/>
<polygon class="dc" points="847.1,700.2 901.3,695.2 955.6,700.2 901.3,705.2"/>
<polygon class="dr" points="847.1,715.5 901.3,710.5 955.6,715.5 901.3,720.5"/>
<polygon class="dc" points="852.5,807.4 898.5,802.4 944.7,807.4 898.5,812.4"/>
<polygon class="dr" points="852.5,822.7 898.5,817.7 944.7,822.7 898.5,827.7"/>
<path class="ax" d="M820 829.3H982.7M820 829.3v7M847.1 829.3v7M874.2 829.3v7M901.3 829.3v7M928.4 829.3v7M955.6 829.3v7M982.7 829.3v7"/>
<g class="M">
<text x="820" y="849.3">0.5</text><text x="847.1" y="849.3">0.55</text><text x="874.2" y="849.3">0.6</text><text x="901.3" y="849.3">0.65</text><text x="928.4" y="849.3">0.7</text><text x="955.6" y="849.3">0.75</text><text x="982.7" y="849.3">0.8</text>
<text x="894.3" y="875">Event Rate</text>
</g>
<g font-size="9.55">
<text x="615.7" y="868.7">Heterogeneity: <tspan font-style="italic">I</tspan>² = 0.0%, τ² = 0, <tspan font-style="italic">p</tspan> = 0.9758</text>
<text x="615.7" y="884.3">Test for subgroup differences (common effect): χ²₁ = 0.03, df = 1 (<tspan font-style="italic">p</tspan> = 0.8570)</text>
<text x="615.7" y="899.7">Test for subgroup differences (random effects): χ²₁ = 0.03, df = 1 (<tspan font-style="italic">p</tspan> = 0.8570)</text>
</g>
</g>

<!-- ================= PANEL E ================= -->
<g font-size="8">
<text class="L" x="1187" y="13">e</text>
<g class="B">
<text x="1228" y="38.3">Study</text>
<text class="E" x="1379.8" y="38.3">Mean DOR</text>
<text class="M" x="1402.4" y="38.3">Lower CI</text>
<text class="M" x="1440.7" y="38.3">Upper CI</text>
<text class="M" x="1538.8" y="38.3">Subgroup Effect Sizes</text>
<text class="E" x="1632.7" y="38.3">MD</text>
<text class="E" x="1684.3" y="38.3">95%-CI</text>
<text class="E" x="1728.3" y="26">Weight</text>
<text class="E" x="1728.3" y="38.3">(common)</text>
<text class="E" x="1768.3" y="26">Weight</text>
<text class="E" x="1768.3" y="38.3">(random)</text>
</g>
<text class="B U" x="1228" y="61.7">Intervention = DV</text>
<text x="1228" y="73.4">Xinan Sheng 2023a</text>
<text x="1228" y="85.2">Xinan Sheng 2023b</text>
<text class="B U" x="1228" y="96.9">Common effect model</text>
<text class="B U" x="1228" y="108.6">Random effects model</text>
<text class="U" font-size="7.2" x="1228" y="120.4">Heterogeneity: <tspan font-style="italic">I</tspan>² = 0%, τ² = 0, <tspan font-style="italic">p</tspan> = 0.8898</text>
<text class="B U" x="1228" y="143.8">Intervention = EV</text>
<text x="1228" y="155.5">Jonathan E. Rosenberg 2019</text>
<text x="1228" y="167.3">Peter H. O'Donnell 2023a</text>
<text x="1228" y="179">Thomas Powles 2021</text>
<text x="1228" y="190.7">Jonathan Rosenberg 2020a</text>
<text x="1228" y="202.5">Scott T. Tagawa 2021</text>
<text class="B U" x="1228" y="214.2">Common effect model</text>
<text class="B U" x="1228" y="225.9">Random effects model</text>
<text class="U" font-size="7.2" x="1228" y="237.7">Heterogeneity: <tspan font-style="italic">I</tspan>² = 23.5%, τ² = &lt; 0.0001, <tspan font-style="italic">p</tspan> = 0.2644</text>
<text class="B U" x="1228" y="261.1">Intervention = SG</text>
<text x="1228" y="272.8">Daniel P. Petrylak 2024</text>
<text x="1228" y="284.6">A. Bardia 2021</text>
<text class="B U" x="1228" y="296.3">Common effect model</text>
<text class="B U" x="1228" y="308">Random effects model</text>
<text class="U" font-size="7.2" x="1228" y="319.8">Heterogeneity: <tspan font-style="italic">I</tspan>² = 43.8%, τ² = 11.6792, <tspan font-style="italic">p</tspan> = 0.1821</text>
<text class="B" x="1228" y="343.2">Common effect model</text>
<text class="B" x="1228" y="355">Random effects model</text>
<g class="E">
<text x="1379.8" y="73.4">7.9000</text><text x="1379.8" y="85.2">8.3000</text>
<text x="1379.8" y="155.5">7.6000</text><text x="1379.8" y="167.3">13.2000</text><text x="1379.8" y="179">7.3900</text><text x="1379.8" y="190.7">7.4000</text><text x="1379.8" y="202.5">7.2000</text>
<text x="1379.8" y="272.8">5.6000</text><text x="1379.8" y="284.6">12.9000</text>
</g>
<g class="M">
<text x="1402" y="73.4">4.05</text><text x="1440.8" y="73.4">11.75</text>
<text x="1402" y="85.2">4.15</text><text x="1440.8" y="85.2">12.45</text>
<text x="1402" y="155.5">6.34</text><text x="1440.8" y="155.5">8.86</text>
<text x="1402" y="167.3">8.29</text><text x="1440.8" y="167.3">18.11</text>
<text x="1402" y="179">5.46</text><text x="1440.8" y="179">9.32</text>
<text x="1402" y="190.7">5.40</text><text x="1440.8" y="190.7">9.40</text>
<text x="1402" y="202.5">5.25</text><text x="1440.8" y="202.5">9.15</text>
<text x="1402" y="272.8">0.35</text><text x="1440.8" y="272.8">10.85</text>
<text x="1402" y="284.6">3.55</text><text x="1440.8" y="284.6">22.25</text>
</g>
<g class="E">
<text x="1632.7" y="73.4">7.90</text><text x="1684.3" y="73.4">[4.05; 11.75]</text><text x="1728.3" y="73.4">4.2%</text><text x="1768.3" y="73.4">4.2%</text>
<text x="1632.7" y="85.2">8.30</text><text x="1684.3" y="85.2">[4.15; 12.45]</text><text x="1728.3" y="85.2">3.6%</text><text x="1768.3" y="85.2">3.6%</text>
<text class="B U" x="1632.7" y="96.9">8.09</text><text class="B U" x="1684.3" y="96.9">[5.26; 10.91]</text><text class="B U" x="1728.3" y="96.9">7.8%</text><text class="B U" x="1768.3" y="96.9">.</text>
<text class="B U" x="1632.7" y="108.6">8.09</text><text class="B U" x="1684.3" y="108.6">[5.26; 10.91]</text><text class="B U" x="1728.3" y="108.6">.</text><text class="B U" x="1768.3" y="108.6">7.8%</text>
<text x="1632.7" y="155.5">7.60</text><text x="1684.3" y="155.5">[6.34;&#8199; 8.86]</text><text x="1728.3" y="155.5">38.6%</text><text x="1768.3" y="155.5">38.6%</text>
<text x="1632.7" y="167.3">13.20</text><text x="1684.3" y="167.3">[8.29; 18.11]</text><text x="1728.3" y="167.3">2.6%</text><text x="1768.3" y="167.3">2.6%</text>
<text x="1632.7" y="179">7.39</text><text x="1684.3" y="179">[5.46;&#8199; 9.32]</text><text x="1728.3" y="179">16.5%</text><text x="1768.3" y="179">16.5%</text>
<text x="1632.7" y="190.7">7.40</text><text x="1684.3" y="190.7">[5.40;&#8199; 9.40]</text><text x="1728.3" y="190.7">15.4%</text><text x="1768.3" y="190.7">15.4%</text>
<text x="1632.7" y="202.5">7.20</text><text x="1684.3" y="202.5">[5.25;&#8199; 9.15]</text><text x="1728.3" y="202.5">16.2%</text><text x="1768.3" y="202.5">16.2%</text>
<text class="B U" x="1632.7" y="214.2">7.61</text><text class="B U" x="1684.3" y="214.2">[6.78;&#8199; 8.45]</text><text class="B U" x="1728.3" y="214.2">89.3%</text><text class="B U" x="1768.3" y="214.2">.</text>
<text class="B U" x="1632.7" y="225.9">7.61</text><text class="B U" x="1684.3" y="225.9">[6.78;&#8199; 8.45]</text><text class="B U" x="1728.3" y="225.9">.</text><text class="B U" x="1768.3" y="225.9">89.3%</text>
<text x="1632.7" y="272.8">5.60</text><text x="1684.3" y="272.8">[0.35; 10.85]</text><text x="1728.3" y="272.8">2.2%</text><text x="1768.3" y="272.8">2.2%</text>
<text x="1632.7" y="284.6">12.90</text><text x="1684.3" y="284.6">[3.55; 22.25]</text><text x="1728.3" y="284.6">0.7%</text><text x="1768.3" y="284.6">0.7%</text>
<text class="B U" x="1632.7" y="296.3">7.35</text><text class="B U" x="1684.3" y="296.3">[2.77; 11.93]</text><text class="B U" x="1728.3" y="296.3">2.9%</text><text class="B U" x="1768.3" y="296.3">.</text>
<text class="B U" x="1632.7" y="308">8.18</text><text class="B U" x="1684.3" y="308">[1.34; 15.02]</text><text class="B U" x="1728.3" y="308">.</text><text class="B U" x="1768.3" y="308">2.9%</text>
<text class="B" x="1632.7" y="343.2">7.64</text><text class="B" x="1684.3" y="343.2">[6.86;&#8199; 8.43]</text><text class="B" x="1728.3" y="343.2">100.0%</text><text class="B" x="1768.3" y="343.2">.</text>
<text class="B" x="1632.7" y="355">7.64</text><text class="B" x="1684.3" y="355">[6.86;&#8199; 8.43]</text><text class="B" x="1728.3" y="355">.</text><text class="B" x="1768.3" y="355">100.0%</text>
</g>
<line x1="1538.5" y1="55" x2="1538.5" y2="361" stroke="#444" stroke-width="1"/>
<line x1="1562.2" y1="55" x2="1562.2" y2="361" stroke="#3b5bb5" stroke-width="0.9" stroke-dasharray="2 2"/>
<path class="ci" d="M1551.1 73.4H1574.9M1551.4 85.2H1577.1M1558.2 155.5H1566M1564.2 167.3H1594.6M1555.4 179H1567.4M1555.2 190.7H1567.6M1554.8 202.5H1566.9M1539.6 272.8H1572.1M1549.5 284.6H1607.5"/>
<g class="sq">
<rect x="1561.25" y="71.65" width="3.5" height="3.5"/>
<rect x="1562.55" y="83.55" width="3.3" height="3.3"/>
<rect x="1556.75" y="150.15" width="10.7" height="10.7"/>
<rect x="1578" y="165.9" width="2.8" height="2.8"/>
<rect x="1557.9" y="175.5" width="7" height="7"/>
<rect x="1558.03" y="187.33" width="6.75" height="6.75"/>
<rect x="1557.35" y="199.05" width="6.9" height="6.9"/>
<rect x="1554.6" y="271.5" width="2.6" height="2.6"/>
<rect x="1577.75" y="283.85" width="1.5" height="1.5"/>
</g>
<path class="dt" d="M1562.3 72.7h1.4v1.4h-1.4zM1563.5 84.5h1.4v1.4h-1.4zM1561.4 154.8h1.4v1.4h-1.4zM1578.7 166.6h1.4v1.4h-1.4zM1560.7 178.3h1.4v1.4h-1.4zM1560.7 190h1.4v1.4h-1.4zM1560.1 201.8h1.4v1.4h-1.4zM1555.2 272.1h1.4v1.4h-1.4zM1577.8 283.9h1.4v1.4h-1.4z"/>
<polygon class="dc" points="1554.8,96.9 1563.6,93.3 1572.3,96.9 1563.6,100.5"/>
<polygon class="dr" points="1554.8,108.6 1563.6,105 1572.3,108.6 1563.6,112.2"/>
<polygon class="dc" points="1559.5,214.2 1562.1,210.6 1564.7,214.2 1562.1,217.8"/>
<polygon class="dr" points="1559.5,225.9 1562.1,222.3 1564.7,225.9 1562.1,229.5"/>
<polygon class="dc" points="1547.1,296.3 1561.3,292.7 1575.5,296.3 1561.3,299.9"/>
<polygon class="dr" points="1542.7,308 1563.9,304.4 1585.1,308 1563.9,311.6"/>
<polygon class="dc" points="1559.8,343.2 1562.2,339.6 1564.6,343.2 1562.2,346.8"/>
<polygon class="dr" points="1559.8,355 1562.2,351.4 1564.6,355 1562.2,358.6"/>
<path class="ax" d="M1476.5 361H1600.5M1476.5 361v5.7M1507.5 361v5.7M1538.5 361v5.7M1569.5 361v5.7M1600.5 361v5.7"/>
<g class="M">
<text x="1476.5" y="375">−20</text><text x="1507.5" y="375">−10</text><text x="1538.5" y="375">0</text><text x="1569.5" y="375">10</text><text x="1600.5" y="375">20</text>
<text x="1538.5" y="394.3">Duration of Response (DOR, months)</text>
</g>
<g font-size="7.2">
<text x="1228" y="389.3">Heterogeneity: <tspan font-style="italic">I</tspan>² = 0.0%, τ² &lt; 0.0001, <tspan font-style="italic">p</tspan> = 0.5210</text>
<text x="1228" y="401">Test for subgroup differences (common effect): χ²₂ = 0.11, df = 2 (<tspan font-style="italic">p</tspan> = 0.9443)</text>
<text x="1228" y="412.5">Test for subgroup differences (random effects): χ²₂ = 0.12, df = 2 (<tspan font-style="italic">p</tspan> = 0.9412)</text>
</g>
</g>
</svg>
</body></html>
